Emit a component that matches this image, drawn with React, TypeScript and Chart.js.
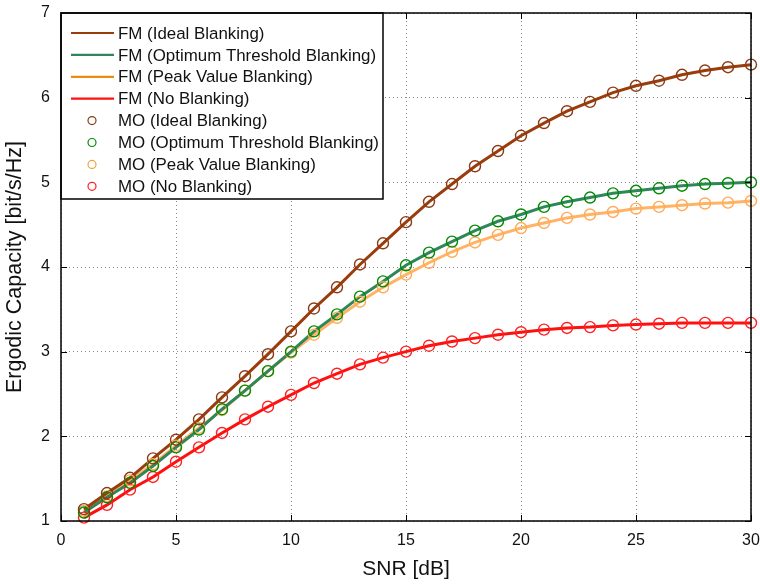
import React, { useEffect, useRef } from "react";
import { Chart, registerables } from "chart.js";
Chart.register(...registerables);

const snrDb = [1, 2, 3, 4, 5, 6, 7, 8, 9, 10, 11, 12, 13, 14, 15, 16, 17, 18, 19, 20, 21, 22, 23, 24, 25, 26, 27, 28, 29, 30];
const idealBlanking = [1.14, 1.33, 1.51, 1.74, 1.96, 2.2, 2.46, 2.71, 2.97, 3.24, 3.51, 3.76, 4.03, 4.28, 4.53, 4.77, 4.98, 5.19, 5.37, 5.55, 5.7, 5.84, 5.95, 6.06, 6.14, 6.2, 6.27, 6.32, 6.36, 6.39];
const optimumThreshold = [1.1, 1.28, 1.45, 1.65, 1.87, 2.08, 2.32, 2.54, 2.77, 3.0, 3.24, 3.44, 3.65, 3.83, 4.02, 4.17, 4.3, 4.43, 4.54, 4.62, 4.71, 4.77, 4.82, 4.87, 4.9, 4.93, 4.96, 4.98, 4.99, 5.0];
const peakValue = [1.12, 1.29, 1.48, 1.67, 1.89, 2.1, 2.31, 2.54, 2.77, 2.99, 3.2, 3.4, 3.59, 3.76, 3.91, 4.05, 4.18, 4.29, 4.38, 4.46, 4.52, 4.58, 4.62, 4.65, 4.69, 4.71, 4.73, 4.75, 4.76, 4.78];
const noBlanking = [1.04, 1.19, 1.37, 1.52, 1.7, 1.87, 2.04, 2.2, 2.35, 2.49, 2.63, 2.74, 2.85, 2.93, 3.0, 3.07, 3.12, 3.16, 3.2, 3.23, 3.26, 3.28, 3.29, 3.31, 3.32, 3.33, 3.34, 3.34, 3.34, 3.34];

const xTicks = [0, 5, 10, 15, 20, 25, 30];
const yTicks = [1, 2, 3, 4, 5, 6, 7];

const FONT = "'Liberation Sans', Arial, sans-serif";

const pts = (ys: number[]) => snrDb.map((x, i) => ({ x, y: ys[i] }));

type Entry = { label: string; kind: "line" | "circle"; color: string };

const legendEntries: Entry[] = [
  { label: "FM (Ideal Blanking)", kind: "line", color: "#9a3c0c" },
  { label: "FM (Optimum Threshold Blanking)", kind: "line", color: "#2e8659" },
  { label: "FM (Peak Value Blanking)", kind: "line", color: "#ea8c12" },
  { label: "FM (No Blanking)", kind: "line", color: "#ff1010" },
  { label: "MO (Ideal Blanking)", kind: "circle", color: "#8b3a14" },
  { label: "MO (Optimum Threshold Blanking)", kind: "circle", color: "#008a00" },
  { label: "MO (Peak Value Blanking)", kind: "circle", color: "#f0a040" },
  { label: "MO (No Blanking)", kind: "circle", color: "#ff2020" },
];

const framePlugin = {
  id: "frame",
  afterDatasetsDraw(chart: any) {
    const { ctx, chartArea: a, scales } = chart;
    ctx.save();
    // inner tick marks
    ctx.strokeStyle = "#000";
    ctx.lineWidth = 1;
    const tl = 6;
    xTicks.forEach((v) => {
      const px = Math.round(scales.x.getPixelForValue(v)) + 0.5;
      ctx.beginPath();
      ctx.moveTo(px, a.bottom);
      ctx.lineTo(px, a.bottom - tl);
      ctx.moveTo(px, a.top);
      ctx.lineTo(px, a.top + tl);
      ctx.stroke();
    });
    yTicks.forEach((v) => {
      const py = Math.round(scales.y.getPixelForValue(v)) + 0.5;
      ctx.beginPath();
      ctx.moveTo(a.left, py);
      ctx.lineTo(a.left + tl, py);
      ctx.moveTo(a.right, py);
      ctx.lineTo(a.right - tl, py);
      ctx.stroke();
    });
    // legend box
    const lx = a.left, ly = a.top, lw = 322, lh = 186;
    ctx.fillStyle = "#fff";
    ctx.fillRect(lx, ly, lw, lh);
    ctx.strokeStyle = "#000";
    ctx.lineWidth = 1.5;
    ctx.strokeRect(lx, ly, lw, lh);
    ctx.font = `16.9px ${FONT}`;
    ctx.textBaseline = "middle";
    ctx.textAlign = "left";
    legendEntries.forEach((e, i) => {
      const y = ly + 20 + i * 21.9;
      if (e.kind === "line") {
        ctx.strokeStyle = e.color;
        ctx.lineWidth = 2.2;
        ctx.beginPath();
        ctx.moveTo(lx + 10, y);
        ctx.lineTo(lx + 53, y);
        ctx.stroke();
      } else {
        ctx.strokeStyle = e.color;
        ctx.lineWidth = 1.2;
        ctx.beginPath();
        ctx.arc(lx + 31, y, 4, 0, Math.PI * 2);
        ctx.stroke();
      }
      ctx.fillStyle = "#111";
      ctx.fillText(e.label, lx + 57, y + 1);
    });
    // plot border
    ctx.strokeStyle = "#000";
    ctx.lineWidth = 1.5;
    ctx.strokeRect(a.left, a.top, a.right - a.left, a.bottom - a.top);
    ctx.restore();
  },
};

export default function App() {
  const ref = useRef<HTMLCanvasElement>(null);
  useEffect(() => {
    document.body.style.margin = "0";
    const lineDs = (label: string, data: number[], color: string) => ({
      label,
      data: pts(data),
      borderColor: color,
      backgroundColor: color,
      borderWidth: 3,
      pointRadius: 0,
      tension: 0,
      order: 2,
    });
    const markDs = (label: string, data: number[], color: string) => ({
      label,
      data: pts(data),
      borderColor: color,
      backgroundColor: "rgba(0,0,0,0)",
      showLine: false,
      pointRadius: 5.5,
      pointBorderWidth: 1.4,
      pointBackgroundColor: "rgba(0,0,0,0)",
      pointBorderColor: color,
      clip: false,
      order: 1,
    });
    const chart = new Chart(ref.current!, {
      type: "line",
      data: {
        datasets: [
          lineDs("FM (Ideal Blanking)", idealBlanking, "#9a3c0c"),
          lineDs("FM (Optimum Threshold Blanking)", optimumThreshold, "#2e8659"),
          lineDs("FM (Peak Value Blanking)", peakValue, "#ffb366"),
          lineDs("FM (No Blanking)", noBlanking, "#ff1010"),
          markDs("MO (Ideal Blanking)", idealBlanking, "#8b3a14"),
          markDs("MO (Optimum Threshold Blanking)", optimumThreshold, "#008a00"),
          markDs("MO (Peak Value Blanking)", peakValue, "#ffaa55"),
          markDs("MO (No Blanking)", noBlanking, "#ff2020"),
        ] as any,
      },
      options: {
        animation: false,
        responsive: false,
        devicePixelRatio: 1,
        layout: { padding: { left: 0, right: 9, top: 13, bottom: 0 } },
        plugins: { legend: { display: false }, tooltip: { enabled: false } },
        scales: {
          x: {
            type: "linear",
            min: 0,
            max: 30,
            afterBuildTicks: (s: any) => {
              s.ticks = xTicks.map((v) => ({ value: v }));
            },
            afterFit: (s: any) => {
              s.height = 65;
              s.paddingLeft = 0;
              s.paddingRight = 0;
            },
            ticks: { padding: 10, color: "#111", font: { family: FONT, size: 16 }, maxRotation: 0 },
            grid: { color: "#8a8a8a", lineWidth: 1, drawTicks: false },
            border: { display: false, dash: [1, 3] },
            title: { display: true, text: "SNR [dB]", color: "#111", font: { family: FONT, size: 21 }, padding: { top: 0, bottom: 4 } },
          },
          y: {
            type: "linear",
            min: 1,
            max: 7,
            afterBuildTicks: (s: any) => {
              s.ticks = yTicks.map((v) => ({ value: v }));
            },
            afterFit: (s: any) => {
              s.width = 61;
              s.paddingTop = 0;
              s.paddingBottom = 0;
            },
            ticks: { padding: 11, color: "#111", font: { family: FONT, size: 16 } },
            grid: { color: "#8a8a8a", lineWidth: 1, drawTicks: false },
            border: { display: false, dash: [1, 3] },
            title: { display: true, text: "Ergodic Capacity [bit/s/Hz]", color: "#111", font: { family: FONT, size: 21.5 }, padding: { top: 2, bottom: 0 } },
          },
        },
      } as any,
      plugins: [framePlugin],
    });
    return () => chart.destroy();
  }, []);
  return (
    <div style={{ width: 760, height: 586, background: "#fff" }}>
      <canvas ref={ref} width={760} height={586} style={{ display: "block" }} />
    </div>
  );
}
